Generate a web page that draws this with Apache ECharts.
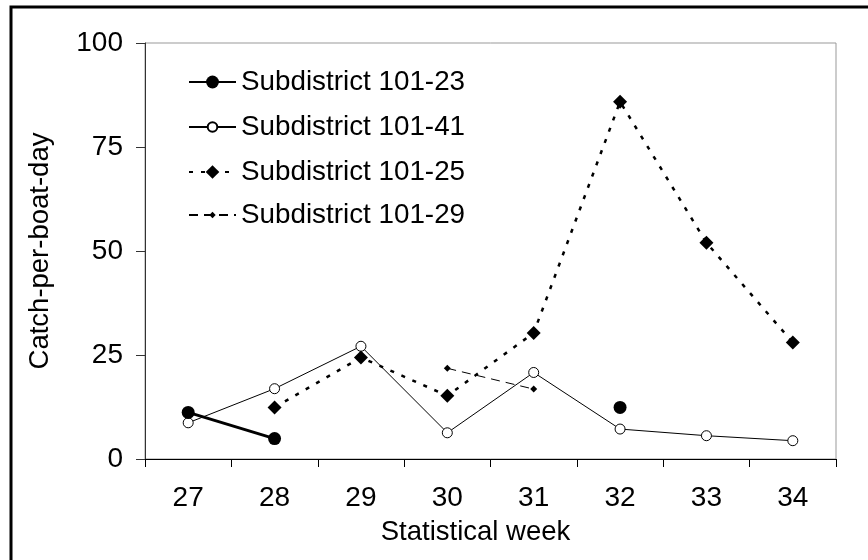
<!DOCTYPE html>
<html>
<head>
<meta charset="utf-8">
<script src="https://cdn.jsdelivr.net/npm/echarts@6/dist/echarts.min.js"></script>
<style>html,body{margin:0;padding:0;background:#fff;}#c{width:868px;height:560px;}</style>
</head>
<body>
<div id="c"></div>
<script>
const weeks = ['27','28','29','30','31','32','33','34'];
const s23 = [11.2, 4.9, null, null, null, 12.4, null, null];
const s41 = [8.7, 16.9, 27.1, 6.3, 20.8, 7.2, 5.6, 4.4];
const s25 = [null, 12.4, 24.4, 15.2, 30.3, 85.9, 52.0, 28.0];
const s29 = [null, null, null, 21.8, 16.8, null, null, null];
const names = ['Subdistrict 101-23','Subdistrict 101-41','Subdistrict 101-25','Subdistrict 101-29'];
const yTicks = [0, 25, 50, 75, 100];

const FONT = 'Liberation Sans, Arial, sans-serif';
const chart = echarts.init(document.getElementById('c'), null, {renderer:'canvas'});

const legendRows = [82, 127, 172, 215];
const legendH = [16, 12, 17, 8];
const legends = names.map((n, i) => ({
  data: [n],
  orient: 'vertical',
  left: 188,
  top: legendRows[i] - 16,
  itemWidth: 47,
  itemHeight: legendH[i],
  itemGap: 0,
  padding: 0,
  textStyle: {fontFamily: FONT, fontSize: 27.8, color: '#000', lineHeight: 32},
  selectedMode: false
}));

chart.setOption({
  animation: false,
  backgroundColor: '#fff',
  graphic: [{
    type: 'rect', shape: {x: 11, y: 7, width: 900, height: 600},
    style: {fill: 'none', stroke: '#000', lineWidth: 3}, silent: true
  }],
  grid: {left: 145, right: 32, top: 43, bottom: 101, show: true, borderColor: '#999', borderWidth: 1},
  legend: legends,
  xAxis: {
    type: 'category', data: weeks, boundaryGap: true,
    name: 'Statistical week', nameLocation: 'middle', nameGap: 59,
    nameTextStyle: {fontFamily: FONT, fontSize: 27.5, color: '#000', padding: [0, 30, 0, 0]},
    axisLine: {lineStyle: {color: '#000', width: 1}},
    axisTick: {show: true, inside: false, length: 8, lineStyle: {color: '#000'}},
    axisLabel: {fontFamily: FONT, fontSize: 28, color: '#000', margin: 25},
    splitLine: {show: false}
  },
  yAxis: {
    type: 'value', min: yTicks[0], max: yTicks[yTicks.length-1], interval: 25,
    name: 'Catch-per-boat-day', nameLocation: 'middle', nameGap: 91,
    nameTextStyle: {fontFamily: FONT, fontSize: 27.5, color: '#000'},
    axisLine: {show: true, lineStyle: {color: '#333', width: 1}},
    axisTick: {show: true, inside: false, length: 9, lineStyle: {color: '#333'}},
    axisLabel: {fontFamily: FONT, fontSize: 28, color: '#000', margin: 22},
    splitLine: {show: false}
  },
  series: [
    {
      name: names[1], type: 'line', data: s41, z: 2,
      symbol: 'circle', symbolSize: 10, showAllSymbol: true,
      itemStyle: {color: '#fff', borderColor: '#000', borderWidth: 1},
      lineStyle: {color: '#000', width: 1, type: 'solid'}
    },
    {
      name: names[2], type: 'line', data: s25, z: 3,
      symbol: 'diamond', symbolSize: 14, showAllSymbol: true,
      itemStyle: {color: '#000', borderWidth: 0},
      lineStyle: {color: '#000', width: 2.5, type: [4, 8]}
    },
    {
      name: names[3], type: 'line', data: s29, z: 3,
      symbol: 'diamond', symbolSize: 7, showAllSymbol: true,
      itemStyle: {color: '#000', borderWidth: 0},
      lineStyle: {color: '#000', width: 1, type: [9, 6]}
    },
    {
      name: names[0], type: 'line', data: s23, z: 4,
      symbol: 'circle', symbolSize: 13, showAllSymbol: true, connectNulls: false,
      itemStyle: {color: '#000', borderWidth: 0},
      lineStyle: {color: '#000', width: 3, type: 'solid'}
    }
  ]
});
</script>
</body>
</html>
